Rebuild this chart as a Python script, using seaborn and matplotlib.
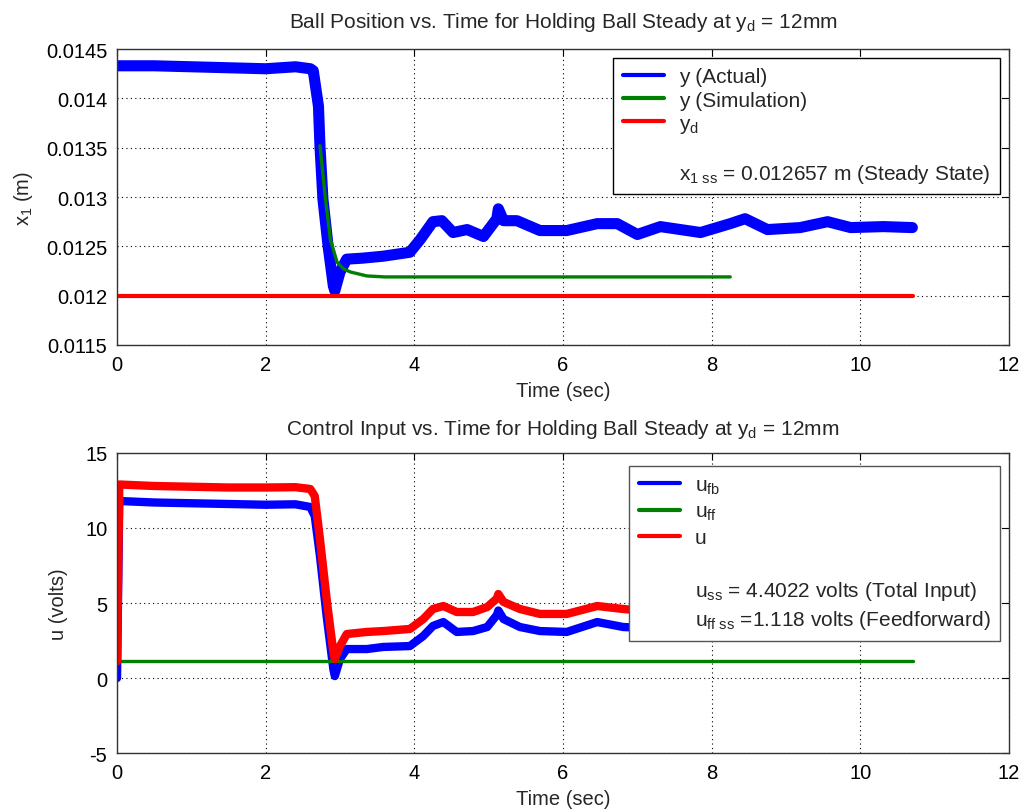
import matplotlib
matplotlib.use("Agg")
import matplotlib.pyplot as plt
from matplotlib.lines import Line2D
import seaborn as sns

# ---------------- data ----------------
t_actual = [0, 0.5, 1.0, 1.5, 2.0, 2.4, 2.6, 2.64, 2.71, 2.73, 2.77, 2.84, 2.91, 2.93,
            3.0, 3.09, 3.3, 3.58, 3.94, 4.08, 4.25, 4.37, 4.52, 4.71, 4.93, 5.11, 5.13,
            5.2, 5.38, 5.69, 6.05, 6.46, 6.73, 7.0, 7.31, 7.85, 8.25, 8.45, 8.75, 9.19,
            9.56, 9.87, 10.31, 10.7]
y_actual = [0.01433, 0.01433, 0.01432, 0.01431, 0.01430, 0.01432, 0.01430, 0.01428,
            0.01392, 0.01352, 0.01298, 0.01250, 0.01210, 0.01205, 0.01224, 0.01237,
            0.01238, 0.01240, 0.01244, 0.01257, 0.01275, 0.01276, 0.01264, 0.01267,
            0.01260, 0.01278, 0.01288, 0.01276, 0.01276, 0.01266, 0.01266, 0.01273,
            0.01273, 0.01262, 0.01270, 0.01264, 0.01273, 0.01278, 0.01267, 0.01269,
            0.01275, 0.01269, 0.01270, 0.01269]

t_sim = [2.73, 2.80, 2.87, 2.96, 3.05, 3.14, 3.36, 3.6, 4.0, 5.0, 6.0, 7.0, 8.25]
y_sim = [0.01352, 0.01301, 0.01257, 0.01234, 0.01227, 0.01224, 0.01220, 0.01219,
         0.01219, 0.01219, 0.01219, 0.01219, 0.01219]

t_des = [0, 10.71]
y_des = [0.012, 0.012]

t_u = [0, 0.03, 0.5, 1.0, 1.5, 2.0, 2.4, 2.6, 2.66, 2.73, 2.82, 2.91, 2.93, 3.0, 3.09,
       3.36, 3.58, 3.94, 4.12, 4.25, 4.39, 4.57, 4.79, 4.98, 5.11, 5.13, 5.2, 5.42,
       5.69, 6.05, 6.46, 6.81, 7.3, 7.9, 8.5, 9.1, 9.7, 10.3, 10.7]
u_total = [1.1, 12.9, 12.8, 12.75, 12.7, 12.7, 12.72, 12.6, 12.13, 9.27, 5.27, 1.73,
           1.27, 2.13, 2.93, 3.07, 3.13, 3.27, 3.93, 4.6, 4.8, 4.4, 4.4, 4.73, 5.3,
           5.6, 5.07, 4.6, 4.27, 4.27, 4.8, 4.6, 4.4, 4.5, 4.4, 4.45, 4.35, 4.4, 4.4]
u_fb = [0, 11.8, 11.7, 11.65, 11.6, 11.55, 11.58, 11.4, 10.8, 8.13, 4.13, 0.6, 0.13,
        1.27, 1.93, 1.93, 2.07, 2.13, 2.8, 3.47, 3.73, 3.07, 3.13, 3.4, 4.2, 4.5, 3.93,
        3.4, 3.13, 3.07, 3.73, 3.4, 3.3, 3.4, 3.3, 3.35, 3.25, 3.3, 3.3]
t_ff = [0, 10.71]
u_ff = [1.118, 1.118]

x_ticks = [0, 2, 4, 6, 8, 10, 12]
y1_ticks = [0.0115, 0.012, 0.0125, 0.013, 0.0135, 0.014, 0.0145]
y1_ticklabels = ["0.0115", "0.012", "0.0125", "0.013", "0.0135", "0.014", "0.0145"]
y2_ticks = [-5, 0, 5, 10, 15]

BLUE, GREEN, RED = "#0000ff", "#008000", "#ff0000"

# ---------------- style ----------------
sns.set_style("white")
plt.rcParams["font.family"] = ["Liberation Sans", "DejaVu Sans"]
plt.rcParams["mathtext.fontset"] = "custom"
plt.rcParams["mathtext.rm"] = "Liberation Sans"
plt.rcParams["mathtext.it"] = "Liberation Sans"
plt.rcParams["mathtext.default"] = "regular"

FS = 14.5
FT = 15
FL = 15

fig = plt.figure(figsize=(10.23, 8.12), dpi=100)
ax1 = fig.add_axes([0.1144, 0.5739, 0.8719, 0.3645])
ax2 = fig.add_axes([0.1144, 0.0714, 0.8719, 0.3695])


def style_axes(ax):
    ax.grid(True, color="black", linestyle=(0, (1, 3)), linewidth=0.8)
    ax.tick_params(direction="in", top=True, right=True, labelsize=FS,
                   length=5, width=0.8, colors="black", pad=7)
    for s in ax.spines.values():
        s.set_visible(True)
        s.set_color("#333333")
        s.set_linewidth(1.0)
    ax.set_xlim(0, 12)
    ax.set_xticks(x_ticks)
    ax.set_xticklabels([str(v) for v in x_ticks])
    ax.set_xlabel("Time (sec)", fontsize=FS, labelpad=5)


leg_kw = dict(loc="upper right", bbox_transform=fig.transFigure, fontsize=FL,
              frameon=True, fancybox=False, framealpha=1, handlelength=2.0,
              handletextpad=0.7, borderpad=0.45, borderaxespad=0)

# ---------------- top ----------------
sns.lineplot(x=t_actual, y=y_actual, ax=ax1, color=BLUE, lw=8, sort=False)
sns.lineplot(x=t_sim, y=y_sim, ax=ax1, color=GREEN, lw=2.4, sort=False)
sns.lineplot(x=t_des, y=y_des, ax=ax1, color=RED, lw=3, sort=False)
style_axes(ax1)
ax1.set_ylim(0.0115, 0.0145)
ax1.set_yticks(y1_ticks)
ax1.set_yticklabels(y1_ticklabels)
ax1.set_ylabel("$x_1$ (m)", fontsize=FS, labelpad=8)
ax1.set_title("Ball Position vs. Time for Holding Ball Steady at $y_d$ = 12mm",
              fontsize=FT, pad=16)

blank = Line2D([], [], color="none")
h1 = [Line2D([], [], color=BLUE, lw=3), Line2D([], [], color=GREEN, lw=3),
      Line2D([], [], color=RED, lw=3), blank, blank]
l1 = ["y (Actual)", "y (Simulation)", "$y_d$", " ",
      "$x_{1\\ ss}$ = 0.012657 m (Steady State)"]
leg1 = ax1.legend(h1, l1, bbox_to_anchor=(0.9775, 0.9273), edgecolor="black",
                  labelspacing=0.2, **leg_kw)
leg1.get_frame().set_linewidth(1.0)

# ---------------- bottom ----------------
sns.lineplot(x=t_u, y=u_fb, ax=ax2, color=BLUE, lw=6, sort=False)
sns.lineplot(x=t_ff, y=u_ff, ax=ax2, color=GREEN, lw=2.4, sort=False)
sns.lineplot(x=t_u, y=u_total, ax=ax2, color=RED, lw=6, sort=False)
style_axes(ax2)
ax2.set_ylim(-5, 15)
ax2.set_yticks(y2_ticks)
ax2.set_yticklabels([str(v) for v in y2_ticks])
ax2.set_ylabel("u (volts)", fontsize=FS, labelpad=12)
ax2.set_title("Control Input vs. Time for Holding Ball Steady at $y_d$ = 12mm",
              fontsize=FT, pad=14)

h2 = [Line2D([], [], color=BLUE, lw=3), Line2D([], [], color=GREEN, lw=3),
      Line2D([], [], color=RED, lw=3), blank, blank, blank]
l2 = ["$u_{fb}$", "$u_{ff}$", "u", " ",
      "$u_{ss}$ = 4.4022 volts (Total Input)",
      "$u_{ff\\ ss}$ =1.118 volts (Feedforward)"]
leg2 = ax2.legend(h2, l2, bbox_to_anchor=(0.9775, 0.4249), edgecolor="#555555",
                  labelspacing=0.3, **leg_kw)
leg2.get_frame().set_linewidth(1.0)

fig.savefig("out.png", dpi=100, facecolor="white")
